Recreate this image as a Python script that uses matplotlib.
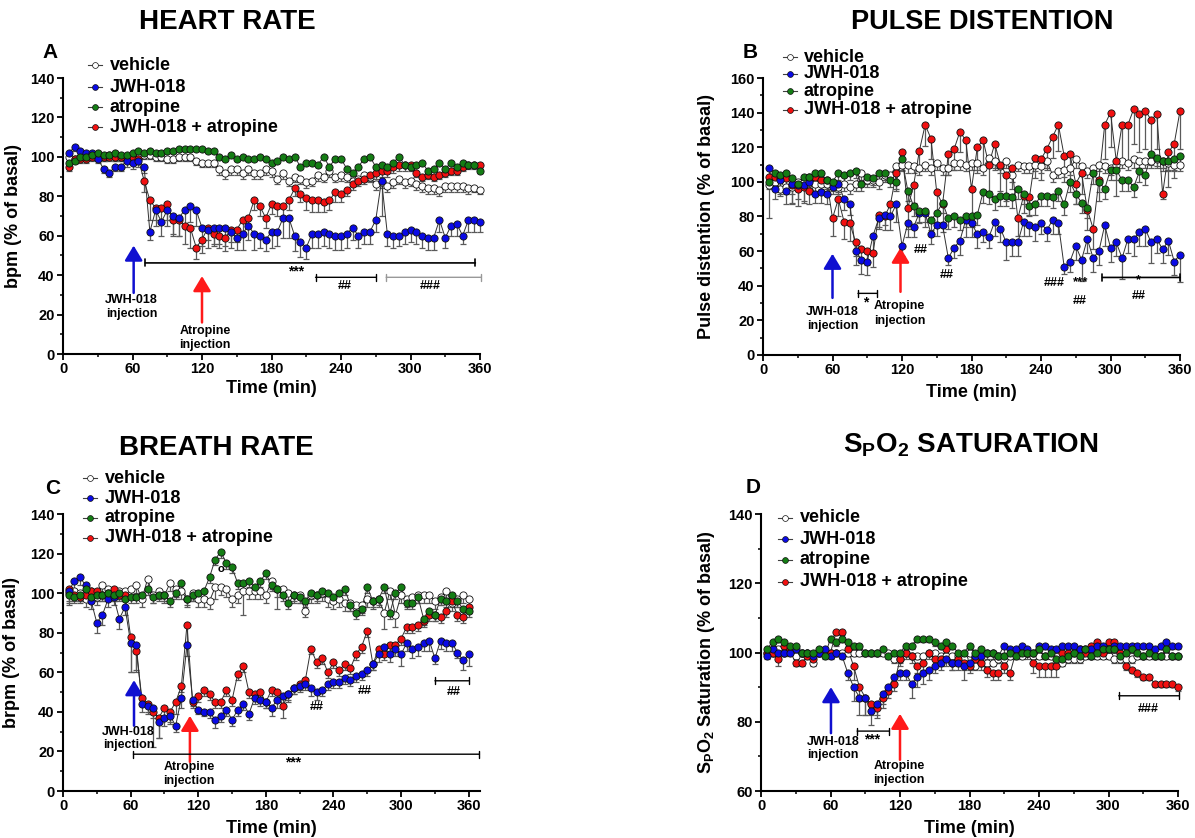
import matplotlib
matplotlib.use('Agg')
import matplotlib.pyplot as plt
from matplotlib.lines import Line2D
import numpy as np

plt.rcParams['font.family'] = ['Liberation Sans', 'DejaVu Sans']
plt.rcParams['font.weight'] = 'bold'
plt.rcParams['axes.labelweight'] = 'bold'
plt.rcParams['mathtext.fontset'] = 'custom'
plt.rcParams['mathtext.rm'] = 'Liberation Sans:bold'
plt.rcParams['mathtext.bf'] = 'Liberation Sans:bold'
plt.rcParams['mathtext.it'] = 'Liberation Sans:bold'

# ---------------- data ----------------
time_min = list(range(5, 361, 5))
series = ['vehicle', 'JWH-018', 'atropine', 'JWH-018 + atropine']

# Panel A: heart rate (% of basal)
hr_vehicle = [100, 99, 100, 100, 101, 100, 100, 101, 100, 100, 100, 100,
              101, 101, 101, 100, 100, 99, 99, 100, 100, 100, 98, 97,
              97, 97, 94, 92, 94, 94, 92, 94, 92, 92, 94, 93,
              89, 92, 88, 90, 89, 87, 88, 91, 90, 93, 90, 91,
              90, 88, 89, 91, 90, 86, 87, 85, 87, 89, 87, 88,
              86, 85, 84, 84, 83, 85, 85, 85, 85, 84, 84, 83]
hr_jwh = [102, 105, 103, 102, 102, 99, 94, 92, 95, 95, 98, 97,
          98, 95, 62, 73, 67, 73, 70, 69, 73, 75, 73, 64,
          63, 64, 64, 64, 62, 59, 61, 65, 61, 60, 58, 62,
          62, 69, 69, 60, 57, 54, 61, 61, 62, 61, 60, 60,
          61, 64, 60, 62, 62, 68, 88, 61, 60, 60, 62, 63,
          62, 60, 59, 59, 68, 59, 65, 66, 60, 68, 68, 67]
hr_atropine = [97, 98, 100, 100, 101, 102, 101, 101, 102, 101, 101, 102,
               103, 102, 103, 102, 102, 103, 103, 104, 104, 104, 104, 104,
               103, 103, 100, 99, 101, 99, 100, 99, 99, 100, 99, 97,
               98, 100, 99, 100, 95, 97, 97, 96, 100, 95, 99, 99,
               94, 92, 95, 99, 100, 95, 96, 95, 97, 100, 96, 95,
               96, 97, 93, 94, 97, 94, 97, 95, 97, 96, 96, 93]
hr_combo = [95, 99, 99, 99, 100, 100, 100, 100, 100, 100, 100, 100,
            99, 88, 78, 74, 74, 76, 68, 68, 65, 64, 54, 58,
            64, 61, 60, 59, 63, 63, 68, 69, 78, 75, 69, 76,
            75, 75, 78, 84, 81, 79, 78, 78, 77, 78, 82, 81,
            83, 86, 88, 89, 91, 92, 93, 93, 95, 96, 96, 96,
            92, 90, 91, 90, 91, 92, 93, 93, 95, 96, 96, 96]
hr_vehicle_sem = [2, 2, 2, 2, 2, 2, 2, 2, 2, 2, 2, 2,
                  2, 2, 2, 2, 2, 2, 2, 2, 2, 2, 2, 2,
                  2, 2, 3, 3, 3, 3, 3, 3, 3, 3, 3, 3,
                  3, 3, 3, 3, 3, 3, 3, 3, 3, 3, 3, 3,
                  3, 3, 3, 3, 3, 3, 3, 3, 3, 3, 3, 3,
                  3, 3, 3, 3, 3, 3, 3, 3, 3, 3, 2, 2]
hr_jwh_sem = [2, 2, 2, 2, 2, 2, 2, 2, 2, 2, 3, 3,
              3, 3, 4, 8, 7, 8, 9, 9, 8, 8, 8, 9,
              9, 8, 8, 9, 8, 6, 8, 7, 8, 6, 6, 8,
              7, 10, 10, 8, 8, 6, 7, 7, 7, 7, 7, 7,
              7, 6, 6, 6, 6, 6, 18, 6, 6, 5, 6, 6,
              6, 6, 6, 6, 6, 5, 5, 6, 4, 6, 6, 5]
hr_atropine_sem = [2, 1, 1, 1, 1, 1, 1, 1, 1, 1, 1, 1,
                   1, 1, 1, 1, 1, 1, 1, 1, 1, 1, 1, 1,
                   1, 1, 1, 1, 1, 1, 1, 1, 1, 1, 1, 1,
                   1, 1, 1, 1, 1, 1, 1, 1, 1, 1, 1, 1,
                   1, 1, 1, 1, 1, 1, 1, 1, 1, 1, 1, 1,
                   1, 1, 1, 1, 1, 1, 1, 1, 1, 1, 1, 1]
hr_combo_sem = [2, 2, 2, 2, 2, 2, 2, 2, 2, 2, 2, 2,
                2, 6, 10, 6, 6, 8, 8, 8, 9, 10, 6, 7,
                6, 6, 6, 7, 6, 6, 6, 5, 5, 5, 5, 5,
                5, 5, 5, 4, 4, 6, 6, 6, 5, 5, 5, 4,
                3, 3, 3, 3, 3, 3, 3, 3, 3, 3, 3, 3,
                2, 2, 2, 2, 2, 2, 2, 2, 2, 2, 2, 2]

# Panel B: pulse distention (% of basal)
pd_vehicle = [98, 100, 96, 97, 97, 100, 100, 103, 99, 99, 99, 99,
              97, 99, 97, 99, 105, 101, 101, 100, 104, 104, 109, 110,
              110, 109, 108, 110, 108, 111, 108, 108, 111, 111, 110, 111,
              111, 108, 114, 112, 109, 112, 104, 110, 109, 109, 110, 109,
              112, 104, 106, 107, 108, 113, 109, 106, 108, 110, 109, 108,
              110, 112, 111, 113, 112, 112, 112, 113, 112, 111, 110, 110]
pd_jwh = [108, 96, 101, 95, 99, 98, 98, 100, 93, 94, 93, 97,
          99, 90, 87, 60, 55, 54, 69, 79, 81, 80, 87, 63,
          76, 74, 82, 82, 70, 75, 75, 56, 62, 66, 78, 76,
          70, 71, 68, 77, 73, 65, 65, 65, 77, 75, 74, 76,
          72, 78, 76, 51, 54, 63, 55, 67, 56, 60, 75, 62,
          65, 56, 67, 67, 71, 73, 65, 67, 61, 66, 54, 58]
pd_atropine = [100, 105, 104, 105, 102, 99, 103, 103, 105, 105, 101, 100,
               105, 104, 105, 106, 99, 103, 102, 105, 105, 101, 100, 113,
               95, 86, 83, 83, 78, 82, 88, 79, 80, 78, 80, 80,
               81, 94, 93, 90, 92, 92, 91, 96, 93, 86, 87, 92,
               92, 91, 95, 87, 100, 93, 88, 85, 105, 100, 96, 107,
               107, 101, 101, 97, 106, 104, 116, 114, 112, 112, 113, 115]
pd_combo = [103, 103, 102, 102, 98, 96, 97, 95, 103, 101, 101, 79,
            90, 77, 76, 65, 61, 60, 59, 81, 80, 87, 105, 117,
            85, 98, 118, 133, 125, 94, 87, 116, 119, 129, 124, 96,
            120, 124, 110, 122, 110, 104, 108, 79, 92, 91, 114, 113,
            119, 126, 133, 115, 116, 99, 105, 84, 73, 101, 133, 140,
            112, 133, 133, 142, 139, 141, 136, 139, 93, 117, 122, 141]
pd_vehicle_sem = [19, 4, 4, 4, 4, 3, 4, 4, 4, 4, 4, 4,
                  4, 4, 4, 4, 4, 4, 4, 4, 4, 4, 4, 4,
                  5, 4, 4, 4, 4, 4, 4, 4, 4, 4, 4, 4,
                  4, 4, 5, 4, 4, 4, 4, 4, 4, 4, 4, 4,
                  4, 4, 4, 4, 4, 5, 4, 4, 4, 4, 4, 4,
                  4, 4, 4, 5, 4, 4, 4, 4, 4, 4, 4, 4]
pd_jwh_sem = [5, 6, 8, 8, 12, 8, 10, 6, 5, 6, 6, 4,
              5, 6, 6, 8, 8, 8, 10, 5, 6, 8, 10, 6,
              8, 6, 6, 8, 6, 6, 4, 4, 6, 8, 10, 8,
              8, 6, 6, 8, 8, 10, 8, 8, 8, 6, 8, 6,
              6, 8, 6, 4, 6, 8, 12, 8, 8, 8, 12, 8,
              8, 12, 8, 10, 8, 10, 12, 8, 8, 8, 8, 16]
pd_atropine_sem = [4, 4, 4, 4, 4, 4, 4, 4, 4, 4, 4, 4,
                   4, 4, 4, 4, 4, 4, 4, 4, 4, 4, 4, 4,
                   6, 6, 6, 6, 6, 6, 6, 6, 6, 6, 6, 6,
                   6, 6, 6, 6, 6, 6, 6, 6, 6, 6, 6, 6,
                   6, 6, 6, 6, 6, 6, 6, 6, 6, 6, 6, 6,
                   6, 6, 6, 6, 6, 6, 6, 6, 6, 6, 6, 6]
pd_combo_sem = [5, 5, 5, 5, 10, 10, 8, 8, 5, 5, 5, 10,
                10, 10, 10, 8, 8, 8, 8, 8, 8, 8, 10, 10,
                12, 10, 12, 12, 12, 12, 10, 12, 12, 12, 15, 15,
                15, 15, 15, 15, 15, 15, 12, 10, 10, 10, 12, 12,
                12, 12, 15, 15, 15, 12, 12, 12, 12, 12, 20, 20,
                20, 20, 22, 20, 22, 22, 22, 20, 3, 20, 20, 22]

# Panel C: breath rate (% of basal)
br_vehicle = [100, 101, 100, 97, 101, 98, 104, 102, 100, 101, 101, 102,
              104, 97, 107, 99, 101, 99, 105, 102, 101, 97, 100, 97,
              97, 96, 103, 103, 102, 97, 99, 101, 101, 101, 101, 99,
              106, 102, 102, 100, 99, 99, 91, 99, 99, 100, 97, 96,
              97, 95, 95, 94, 94, 97, 96, 97, 90, 101, 89, 99,
              97, 98, 99, 99, 99, 96, 98, 101, 95, 97, 99, 97]
br_jwh = [101, 106, 108, 104, 96, 85, 89, 97, 98, 87, 93, 75,
          74, 44, 43, 42, 35, 37, 38, 33, 47, 74, 46, 41,
          40, 40, 36, 38, 41, 36, 41, 44, 39, 47, 46, 45,
          42, 46, 48, 49, 52, 53, 54, 52, 50, 51, 54, 55,
          55, 57, 56, 58, 59, 61, 64, 69, 73, 69, 72, 69,
          75, 72, 73, 75, 76, 67, 76, 75, 75, 70, 66, 69]
br_atropine = [99, 98, 99, 102, 98, 99, 99, 100, 99, 100, 97, 98,
               98, 99, 102, 98, 99, 99, 96, 100, 105, 97, 99, 100,
               101, 108, 117, 121, 115, 113, 105, 105, 106, 103, 106, 110,
               104, 102, 99, 95, 99, 98, 96, 100, 99, 101, 100, 98,
               100, 102, 94, 90, 92, 103, 96, 97, 103, 90, 100, 103,
               95, 95, 98, 87, 91, 89, 97, 96, 99, 96, 92, 91]
br_combo = [102, 99, 98, 99, 101, 101, 99, 100, 102, 99, 99, 78,
            71, 47, 44, 40, 37, 42, 40, 45, 53, 84, 45, 48,
            51, 49, 45, 45, 51, 46, 59, 63, 50, 49, 50, 45,
            51, 50, 43, 49, 52, 54, 56, 72, 65, 67, 60, 65,
            61, 64, 62, 69, 73, 81, 64, 72, 69, 74, 74, 77,
            83, 83, 84, 86, 89, 89, 88, 91, 96, 89, 88, 93]
br_vehicle_sem = [6, 4, 4, 4, 4, 4, 4, 4, 4, 4, 4, 4,
                  4, 4, 4, 4, 4, 4, 4, 4, 4, 4, 4, 4,
                  4, 4, 6, 4, 4, 4, 4, 12, 4, 4, 4, 4,
                  4, 4, 4, 4, 4, 4, 3, 4, 4, 4, 4, 4,
                  4, 4, 4, 4, 4, 4, 4, 4, 8, 4, 6, 4,
                  4, 4, 4, 4, 4, 4, 4, 4, 4, 4, 4, 4]
br_jwh_sem = [5, 4, 4, 4, 4, 5, 5, 4, 4, 5, 4, 15,
              14, 4, 4, 5, 8, 4, 3, 3, 5, 6, 3, 2,
              2, 3, 4, 3, 3, 3, 3, 3, 3, 3, 3, 3,
              4, 4, 4, 4, 3, 3, 3, 4, 4, 3, 3, 3,
              3, 3, 3, 3, 3, 3, 3, 4, 4, 4, 4, 6,
              4, 5, 5, 4, 5, 3, 4, 4, 4, 3, 5, 6]
br_atropine_sem = [4, 3, 3, 3, 3, 3, 3, 3, 3, 3, 3, 3,
                   3, 3, 3, 3, 3, 3, 3, 3, 3, 3, 3, 3,
                   3, 3, 3, 3, 3, 3, 3, 3, 3, 3, 3, 3,
                   3, 10, 3, 3, 3, 3, 3, 3, 3, 3, 3, 3,
                   3, 3, 3, 3, 3, 3, 3, 3, 3, 3, 3, 3,
                   3, 3, 3, 3, 3, 3, 3, 3, 3, 3, 3, 3]
br_combo_sem = [3, 3, 3, 3, 3, 3, 3, 3, 3, 3, 3, 18,
                10, 4, 4, 18, 10, 6, 6, 6, 3, 10, 3, 3,
                3, 3, 3, 3, 3, 3, 3, 3, 3, 3, 3, 3,
                3, 3, 6, 3, 3, 3, 3, 3, 3, 3, 3, 3,
                3, 3, 3, 3, 3, 3, 3, 3, 3, 3, 3, 3,
                3, 3, 3, 3, 3, 3, 3, 3, 3, 3, 3, 3]

# Panel D: SpO2 saturation (% of basal)
sp_vehicle = [100, 100, 101, 100, 101, 99, 100, 100, 97, 100, 100, 100,
              100, 100, 100, 100, 100, 100, 100, 100, 100, 100, 98, 98,
              100, 99, 99, 99, 100, 100, 99, 99, 99, 99, 98, 100,
              96, 97, 97, 97, 98, 98, 99, 100, 99, 100, 99, 99,
              99, 99, 97, 97, 98, 98, 98, 99, 99, 99, 99, 99,
              98, 98, 98, 98, 99, 99, 99, 99, 99, 99, 99, 99]
sp_jwh = [99, 101, 100, 100, 100, 101, 100, 100, 99, 100, 101, 99,
          100, 99, 94, 90, 87, 87, 83, 85, 88, 90, 93, 94,
          94, 91, 93, 94, 95, 96, 97, 98, 97, 97, 96, 97,
          99, 99, 100, 100, 99, 102, 101, 101, 102, 101, 100, 102,
          102, 101, 101, 102, 102, 102, 101, 101, 101, 102, 102, 101,
          102, 102, 102, 102, 102, 102, 102, 101, 102, 103, 102, 102]
sp_atropine = [101, 103, 104, 103, 102, 102, 100, 100, 100, 101, 99, 104,
               103, 104, 103, 102, 102, 100, 100, 100, 101, 99, 100, 100,
               102, 102, 104, 104, 104, 103, 102, 103, 102, 100, 100, 102,
               100, 101, 100, 100, 99, 99, 100, 99, 100, 100, 100, 101,
               99, 100, 98, 98, 99, 100, 99, 101, 99, 100, 101, 101,
               101, 99, 100, 101, 100, 99, 100, 99, 99, 101, 99, 99]
sp_combo = [100, 100, 98, 102, 101, 97, 97, 99, 98, 100, 100, 100,
            106, 106, 101, 96, 90, 87, 85, 84, 87, 89, 91, 98,
            100, 99, 96, 97, 100, 98, 98, 101, 97, 98, 97, 96,
            98, 97, 95, 94, 94, 96, 94, 100, 101, 100, 97, 96,
            96, 96, 96, 100, 100, 100, 101, 100, 102, 103, 100, 103,
            103, 100, 96, 95, 94, 93, 93, 91, 91, 91, 91, 90]
sp_vehicle_sem = [1, 1, 1, 1, 1, 1, 1, 1, 1, 1, 1, 1,
                  1, 1, 1, 1, 1, 1, 1, 1, 1, 1, 1, 1,
                  1, 1, 1, 1, 1, 1, 1, 1, 1, 1, 1, 1,
                  1, 1, 1, 1, 1, 1, 1, 1, 1, 1, 1, 1,
                  1, 1, 1, 1, 1, 1, 1, 1, 1, 1, 1, 1,
                  1, 1, 1, 1, 1, 1, 1, 1, 1, 1, 1, 1]
sp_jwh_sem = [1, 1, 1, 1, 1, 1, 1, 1, 1, 1, 1, 1,
              1, 1, 2, 4, 5, 5, 4, 3, 3, 2, 2, 2,
              2, 4, 3, 3, 3, 2, 2, 2, 2, 2, 4, 2,
              2, 2, 2, 2, 2, 2, 2, 2, 2, 2, 2, 2,
              1, 1, 1, 1, 1, 1, 1, 1, 1, 1, 1, 1,
              1, 1, 1, 1, 1, 1, 1, 1, 1, 1, 1, 1]
sp_atropine_sem = [1, 1, 1, 1, 1, 1, 1, 1, 1, 1, 1, 1,
                   1, 1, 1, 1, 1, 1, 1, 1, 1, 1, 1, 1,
                   1, 1, 1, 1, 1, 1, 1, 1, 1, 1, 1, 1,
                   1, 1, 1, 1, 1, 1, 1, 1, 1, 1, 1, 1,
                   1, 1, 1, 1, 1, 1, 1, 1, 1, 1, 1, 1,
                   1, 1, 1, 1, 1, 1, 1, 1, 1, 1, 1, 1]
sp_combo_sem = [1, 1, 2, 1, 1, 1, 1, 1, 1, 1, 1, 1,
                1, 1, 1, 4, 4, 5, 3, 3, 3, 2, 2, 2,
                2, 2, 2, 2, 2, 2, 2, 2, 2, 2, 2, 2,
                2, 2, 2, 2, 2, 2, 2, 2, 2, 2, 3, 3,
                3, 3, 3, 1, 1, 1, 1, 1, 1, 1, 1, 1,
                1, 1, 1, 1, 1, 1, 1, 1, 1, 1, 1, 1]

# ---------------- styles ----------------
W, H = 1195, 838
fills = {'vehicle': 'white', 'JWH-018': '#0a0ae6', 'atropine': '#147d14',
         'JWH-018 + atropine': '#f21010'}
zorders = {'vehicle': 3, 'JWH-018 + atropine': 4, 'JWH-018': 5, 'atropine': 6}
draw_order = ['vehicle', 'JWH-018 + atropine', 'JWH-018', 'atropine']

fig = plt.figure(figsize=(W / 100, H / 100), dpi=100)


def fx(px):
    return px / W


def fy(py):
    return 1 - py / H


def make_axes(left, right, top, bottom):
    return fig.add_axes([fx(left), fy(bottom), (right - left) / W, (bottom - top) / H])


def style_axes(ax, xlim, ylim, ymajor, yminor):
    ax.set_xlim(*xlim)
    ax.set_ylim(*ylim)
    ax.set_xticks([0, 60, 120, 180, 240, 300, 360])
    ax.set_xticks(np.arange(30, 361, 60), minor=True)
    ax.set_yticks(ymajor)
    ax.set_yticks(yminor, minor=True)
    for s in ['top', 'right']:
        ax.spines[s].set_visible(False)
    for s in ['left', 'bottom']:
        ax.spines[s].set_linewidth(1.5)
    ax.tick_params(which='major', direction='out', length=4, width=1.3, labelsize=10.5, pad=2)
    ax.tick_params(which='minor', direction='out', length=2.5, width=1.1)
    for lab in ax.get_xticklabels() + ax.get_yticklabels():
        lab.set_fontweight('bold')


def draw_series(ax, vals, sems):
    t = np.array(time_min)
    for name in draw_order:
        y = np.array(vals[name], dtype=float)
        e = np.array(sems[name], dtype=float)
        ax.errorbar(t, y, yerr=[e, np.zeros_like(e)], fmt='none', ecolor='#5a5a5a',
                    elinewidth=0.9, capsize=2.2, capthick=0.9, zorder=1, clip_on=False)
    for name in draw_order:
        y = np.array(vals[name], dtype=float)
        ax.plot(t, y, '-', color='#303030', lw=0.7, zorder=2, clip_on=False)
    for name in draw_order:
        y = np.array(vals[name], dtype=float)
        ax.plot(t, y, 'o', ms=5.2, mfc=fills[name], mec='#111111', mew=0.6,
                zorder=zorders[name], clip_on=False)


def legend(marker_x, text_x, rows):
    for name, ry in zip(series, rows):
        fig.add_artist(Line2D([fx(marker_x - 7), fx(marker_x + 7)], [fy(ry), fy(ry)],
                              transform=fig.transFigure, color='#404040', lw=0.8))
        fig.add_artist(Line2D([fx(marker_x)], [fy(ry)], transform=fig.transFigure,
                              marker='o', ms=4.2, mfc=fills[name], mec='#111111', mew=0.5,
                              linestyle='none'))
        fig.text(fx(text_x), fy(ry), name, fontsize=13, fontweight='bold', va='center', ha='left')


def arrow(ax, x, tail, head, color):
    ax.annotate('', xy=(x, head), xytext=(x, tail), annotation_clip=False,
                arrowprops=dict(arrowstyle='-|>, head_length=0.5, head_width=0.3', color=color,
                                lw=1.8, mutation_scale=18, shrinkA=0, shrinkB=0))


def bracket(ax, x0, x1, y, color='black', lw=1.2):
    ax.annotate('', xy=(x1, y), xytext=(x0, y), annotation_clip=False,
                arrowprops=dict(arrowstyle='|-|, widthA=0.25, widthB=0.25', color=color, lw=lw,
                                shrinkA=0, shrinkB=0))


def note(ax, x, y, s, size=9):
    ax.text(x, y, s, ha='center', va='center', fontsize=size, fontweight='bold')


# ---------------- Panel A ----------------
axA = make_axes(63, 480, 78, 354)
style_axes(axA, (0, 360), (0, 140), np.arange(0, 141, 20), np.arange(10, 140, 20))
draw_series(axA, dict(zip(series, [hr_vehicle, hr_jwh, hr_atropine, hr_combo])),
            dict(zip(series, [hr_vehicle_sem, hr_jwh_sem, hr_atropine_sem, hr_combo_sem])))
axA.set_ylabel('bpm (% of basal)', fontsize=13, fontweight='bold')
axA.yaxis.set_label_coords(-0.098, 0.5)
axA.set_xlabel('Time (min)', fontsize=13, fontweight='bold')
axA.xaxis.label.set_va('center')
axA.xaxis.set_label_coords(0.5, -0.125)
arrow(axA, 61, 31, 55, '#1010d0')
note(axA, 59, 27.5, 'JWH-018')
note(axA, 59, 20.5, 'injection')
arrow(axA, 120, 16, 39.5, '#ff1a1a')
note(axA, 122.5, 11.8, 'Atropine')
note(axA, 122.5, 4.7, 'injection')
bracket(axA, 71, 356, 46.2)
note(axA, 201, 42, '***', 10)
bracket(axA, 218, 270, 38.9, lw=1.0)
note(axA, 243, 34.7, '##')
bracket(axA, 279, 361, 38.9, color='#999999', lw=1.0)
note(axA, 317, 34.7, '###')
legend(95, 110, [65, 87, 107, 127])
fig.text(fx(227), fy(22), 'HEART RATE', fontsize=20, fontweight='bold', ha='center', va='center')
fig.text(fx(50), fy(52), 'A', fontsize=15, fontweight='bold', ha='center', va='center')

# ---------------- Panel B ----------------
axB = make_axes(763, 1180, 78, 355)
style_axes(axB, (0, 360), (0, 160), np.arange(0, 161, 20), np.arange(10, 160, 20))
draw_series(axB, dict(zip(series, [pd_vehicle, pd_jwh, pd_atropine, pd_combo])),
            dict(zip(series, [pd_vehicle_sem, pd_jwh_sem, pd_atropine_sem, pd_combo_sem])))
axB.set_ylabel('Pulse distention (% of basal)', fontsize=13, fontweight='bold')
axB.yaxis.set_label_coords(-0.115, 0.5)
axB.set_xlabel('Time (min)', fontsize=13, fontweight='bold')
axB.xaxis.label.set_va('center')
axB.xaxis.set_label_coords(0.5, -0.134)
arrow(axB, 60, 33, 58.5, '#1010d0')
note(axB, 60, 24.6, 'JWH-018')
note(axB, 60, 16.7, 'injection')
arrow(axB, 118.7, 36.5, 62, '#ff1a1a')
note(axB, 118, 28.3, 'Atropine')
note(axB, 118, 19.8, 'injection')
bracket(axB, 82, 98.5, 35.6, lw=1.0)
note(axB, 88.4, 30.3, '*', 10)
note(axB, 136, 60.6, '##')
note(axB, 158.7, 46, '##')
note(axB, 251.5, 41.3, '###')
note(axB, 274, 41.8, '***', 9.5)
note(axB, 273.6, 31.2, '##')
bracket(axB, 293, 360, 44.8)
note(axB, 324, 43.0, '*', 9)
note(axB, 324.6, 34.3, '##')
legend(790, 804, [57, 74, 91, 110])
fig.text(fx(982), fy(22), 'PULSE DISTENTION', fontsize=19.5, fontweight='bold', ha='center', va='center')
fig.text(fx(750), fy(52), 'B', fontsize=15, fontweight='bold', ha='center', va='center')

# ---------------- Panel C ----------------
axC = make_axes(63, 480, 514, 791)
style_axes(axC, (0, 370), (0, 140), np.arange(0, 141, 20), np.arange(10, 140, 20))
draw_series(axC, dict(zip(series, [br_vehicle, br_jwh, br_atropine, br_combo])),
            dict(zip(series, [br_vehicle_sem, br_jwh_sem, br_atropine_sem, br_combo_sem])))
axC.set_ylabel('brpm (% of basal)', fontsize=13, fontweight='bold')
axC.yaxis.set_label_coords(-0.103, 0.5)
axC.set_xlabel('Time (min)', fontsize=13, fontweight='bold')
axC.xaxis.label.set_va('center')
axC.xaxis.set_label_coords(0.5, -0.134)
axC.text(140, 112, 'o', ha='center', va='center', fontsize=8, fontweight='bold')
arrow(axC, 63, 33, 56, '#1010d0')
note(axC, 58, 29.9, 'JWH-018')
note(axC, 58, 23.1, 'injection')
arrow(axC, 112.6, 14.7, 38, '#ff1a1a')
note(axC, 112, 12.2, 'Atropine')
note(axC, 112, 5.1, 'injection')
bracket(axC, 62.5, 369.5, 18.6, lw=1.0)
note(axC, 204.4, 14.5, '***', 10)
note(axC, 225, 42.6, '##')
note(axC, 267.6, 50.5, '##')
bracket(axC, 330, 360, 55.7, lw=1.0)
note(axC, 346.7, 50.2, '##')
legend(90, 105, [478, 498, 518, 538])
fig.text(fx(216), fy(448), 'BREATH RATE', fontsize=20, fontweight='bold', ha='center', va='center')
fig.text(fx(53), fy(488), 'C', fontsize=15, fontweight='bold', ha='center', va='center')

# ---------------- Panel D ----------------
axD = make_axes(761, 1178, 514, 791)
style_axes(axD, (0, 360), (60, 140), np.arange(60, 141, 20), np.arange(70, 140, 20))
draw_series(axD, dict(zip(series, [sp_vehicle, sp_jwh, sp_atropine, sp_combo])),
            dict(zip(series, [sp_vehicle_sem, sp_jwh_sem, sp_atropine_sem, sp_combo_sem])))
axD.set_ylabel(r'$\mathrm{S_PO_2}$ Saturation (% of basal)', fontsize=13, fontweight='bold')
axD.yaxis.set_label_coords(-0.105, 0.5)
axD.set_xlabel('Time (min)', fontsize=13, fontweight='bold')
axD.xaxis.label.set_va('center')
axD.xaxis.set_label_coords(0.5, -0.134)
arrow(axD, 60.4, 76.7, 90, '#1010d0')
note(axD, 62.4, 74.1, 'JWH-018')
note(axD, 62.4, 70.4, 'injection')
arrow(axD, 120, 69, 82.3, '#ff1a1a')
note(axD, 119.3, 67.3, 'Atropine')
note(axD, 119.3, 63.2, 'injection')
bracket(axD, 83, 110.7, 77.3, lw=1.0)
note(axD, 95.5, 75.0, '***', 10)
bracket(axD, 308.8, 361, 87.5, lw=1.0)
note(axD, 334, 83.6, '###')
legend(785, 800, [518, 539, 560, 582])
fig.text(fx(971), fy(445), r'$\mathrm{S_PO_2}$ SATURATION', fontsize=20, fontweight='bold',
         ha='center', va='center')
fig.text(fx(753), fy(487), 'D', fontsize=15, fontweight='bold', ha='center', va='center')

fig.savefig('out.png', dpi=100, facecolor='white')
